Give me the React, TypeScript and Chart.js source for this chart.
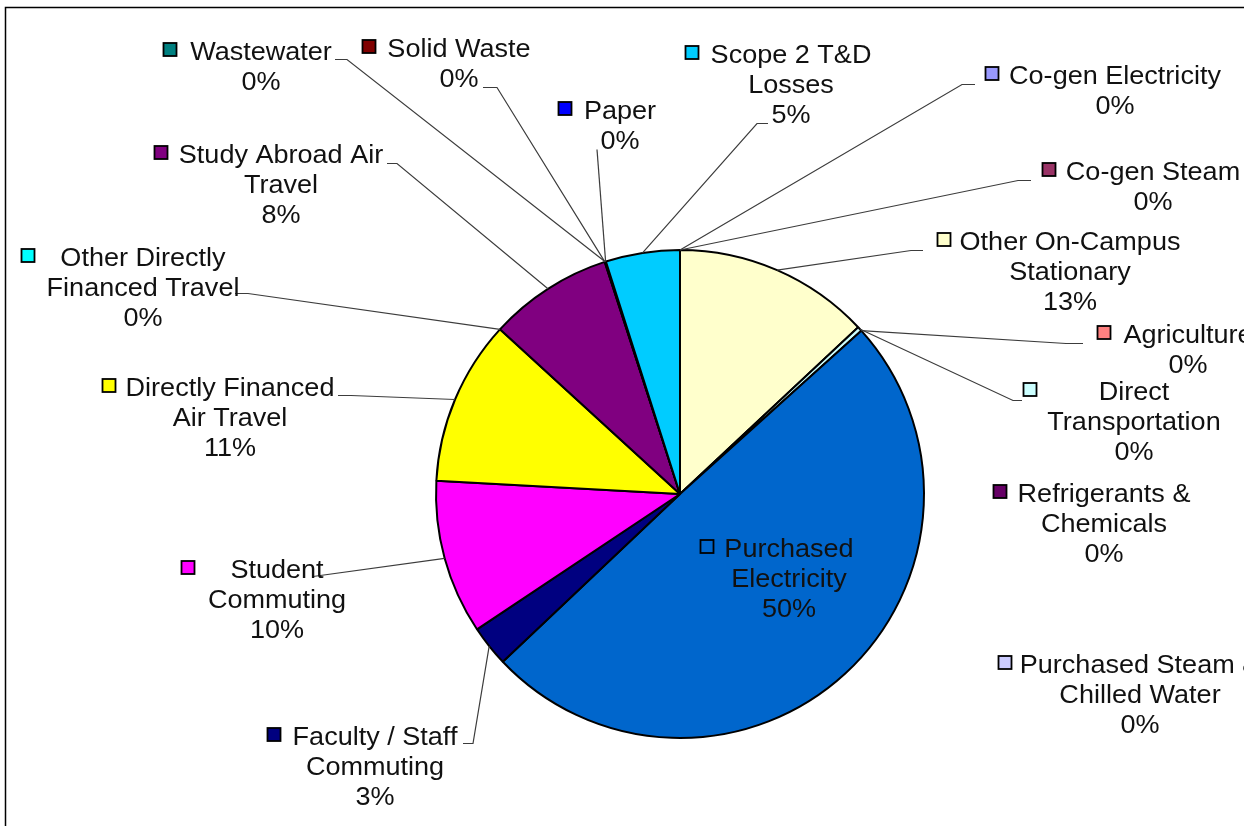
import React, { useEffect, useRef } from "react";
import { Chart, registerables } from "chart.js";

Chart.register(...registerables);

// ---- Data ----
const categories = [
  "Co-gen Electricity",
  "Co-gen Steam",
  "Other On-Campus Stationary",
  "Direct Transportation",
  "Refrigerants & Chemicals",
  "Agriculture",
  "Purchased Electricity",
  "Purchased Steam & Chilled Water",
  "Faculty / Staff Commuting",
  "Student Commuting",
  "Directly Financed Air Travel",
  "Other Directly Financed Travel",
  "Study Abroad Air Travel",
  "Solid Waste",
  "Wastewater",
  "Paper",
  "Scope 2 T&D Losses",
];

const emissionShares = [0, 0, 13.0, 0.3, 0, 0, 49.5, 0, 2.7, 10.2, 10.9, 0, 8.2, 0.02, 0.02, 0.04, 4.9];

const labelLines = [
  ["Co-gen Electricity"],
  ["Co-gen Steam"],
  ["Other On-Campus", "Stationary"],
  ["Direct", "Transportation"],
  ["Refrigerants &", "Chemicals"],
  ["Agriculture"],
  ["Purchased", "Electricity"],
  ["Purchased Steam &", "Chilled Water"],
  ["Faculty / Staff", "Commuting"],
  ["Student", "Commuting"],
  ["Directly Financed", "Air Travel"],
  ["Other Directly", "Financed Travel"],
  ["Study Abroad Air", "Travel"],
  ["Solid Waste"],
  ["Wastewater"],
  ["Paper"],
  ["Scope 2 T&D", "Losses"],
];

// ---- Styles / layout ----
const sliceColors = [
  "#9999FF", "#993366", "#FFFFCC", "#CCFFFF", "#660066", "#FF8080", "#0066CC", "#CCCCFF",
  "#000080", "#FF00FF", "#FFFF00", "#00FFFF", "#800080", "#800000", "#008080", "#0000FF", "#00CCFF",
];

type Lay = { cx: number; base: number; sq: number; lead: [number, number, number | null] | null };
const labelLayout: Lay[] = [
  { cx: 1115, base: 84, sq: 985, lead: [975, 84, 962] },
  { cx: 1153, base: 180, sq: 1042, lead: [1031, 180, 1018] },
  { cx: 1070, base: 250, sq: 937, lead: [923, 250, 911] },
  { cx: 1134, base: 400, sq: 1023, lead: [1022, 400, 1013] },
  { cx: 1104, base: 502, sq: 993, lead: null },
  { cx: 1188, base: 343, sq: 1097, lead: [1083, 343, 1066] },
  { cx: 789, base: 557, sq: 700, lead: null },
  { cx: 1140, base: 673, sq: 998, lead: null },
  { cx: 375, base: 745, sq: 267, lead: [463, 743, 473] },
  { cx: 277, base: 578, sq: 181, lead: [313, 576, null] },
  { cx: 230, base: 396, sq: 102, lead: [338, 395, 351] },
  { cx: 143, base: 266, sq: 21, lead: [235, 293, 248] },
  { cx: 281, base: 163, sq: 154, lead: [387, 163, 397] },
  { cx: 459, base: 57, sq: 362, lead: [483, 87, 497] },
  { cx: 261, base: 60, sq: 163, lead: [335, 59, 347] },
  { cx: 620, base: 119, sq: 558, lead: [597, 149, null] },
  { cx: 791, base: 63, sq: 685, lead: [768, 123, 757] },
];

const FONT = '26px "Liberation Sans", Arial, sans-serif';
const XSCALE = 1.04;
const LINE_H = 30;

const labelPlugin = {
  id: "excelLabels",
  afterDraw(chart: any) {
    const ctx: CanvasRenderingContext2D = chart.ctx;
    const meta = chart.getDatasetMeta(0);
    const total = emissionShares.reduce((a, b) => a + b, 0);

    ctx.save();
    // frame
    ctx.strokeStyle = "#000";
    ctx.lineWidth = 1.5;
    ctx.beginPath();
    ctx.moveTo(5.5, 900);
    ctx.lineTo(5.5, 7.5);
    ctx.lineTo(1300, 7.5);
    ctx.stroke();

    // leader lines
    ctx.strokeStyle = "#3c3c3c";
    ctx.lineWidth = 1.2;
    labelLayout.forEach((lay, i) => {
      if (!lay.lead) return;
      const arc = meta.data[i];
      const mid = (arc.startAngle + arc.endAngle) / 2;
      const px = arc.x + arc.outerRadius * Math.cos(mid);
      const py = arc.y + arc.outerRadius * Math.sin(mid);
      const [ax, ay, ex] = lay.lead;
      ctx.beginPath();
      ctx.moveTo(ax, ay + 0.5);
      if (ex !== null) ctx.lineTo(ex, ay + 0.5);
      ctx.lineTo(px, py);
      ctx.stroke();
    });

    // labels
    ctx.font = FONT;
    ctx.textAlign = "center";
    ctx.textBaseline = "alphabetic";
    labelLayout.forEach((lay, i) => {
      const pct = Math.round((emissionShares[i] / total) * 100) + "%";
      const lines = [...labelLines[i], pct];
      ctx.fillStyle = "#111";
      lines.forEach((ln, k) => {
        ctx.save();
        ctx.translate(lay.cx, lay.base + k * LINE_H);
        ctx.scale(XSCALE, 1);
        ctx.fillText(ln, 0, 0);
        ctx.restore();
      });
      // legend key square
      const top = lay.base - 17.5;
      ctx.fillStyle = sliceColors[i];
      ctx.fillRect(lay.sq + 0.5, top + 0.5, 13, 13);
      ctx.strokeStyle = "#000";
      ctx.lineWidth = 1.8;
      ctx.strokeRect(lay.sq + 0.5, top + 0.5, 13, 13);
    });
    ctx.restore();
  },
};

export default function App() {
  const ref = useRef<HTMLCanvasElement | null>(null);
  useEffect(() => {
    document.body.style.margin = "0";
    document.body.style.background = "#fff";
    const canvas = ref.current;
    if (!canvas) return;
    const chart = new Chart(canvas, {
      type: "pie",
      data: {
        labels: categories,
        datasets: [
          {
            data: emissionShares,
            backgroundColor: sliceColors,
            borderColor: "#000",
            borderWidth: 2,
            hoverOffset: 0,
          },
        ],
      },
      options: {
        responsive: false,
        animation: false,
        devicePixelRatio: 1,
        layout: { padding: { left: 435, right: 319, top: 248, bottom: 86 } },
        plugins: {
          legend: { display: false },
          tooltip: { enabled: false },
        },
      },
      plugins: [labelPlugin],
    });
    return () => chart.destroy();
  }, []);
  return (
    <div style={{ width: 1244, height: 826, background: "#fff" }}>
      <canvas ref={ref} width={1244} height={826} style={{ display: "block" }} />
    </div>
  );
}
